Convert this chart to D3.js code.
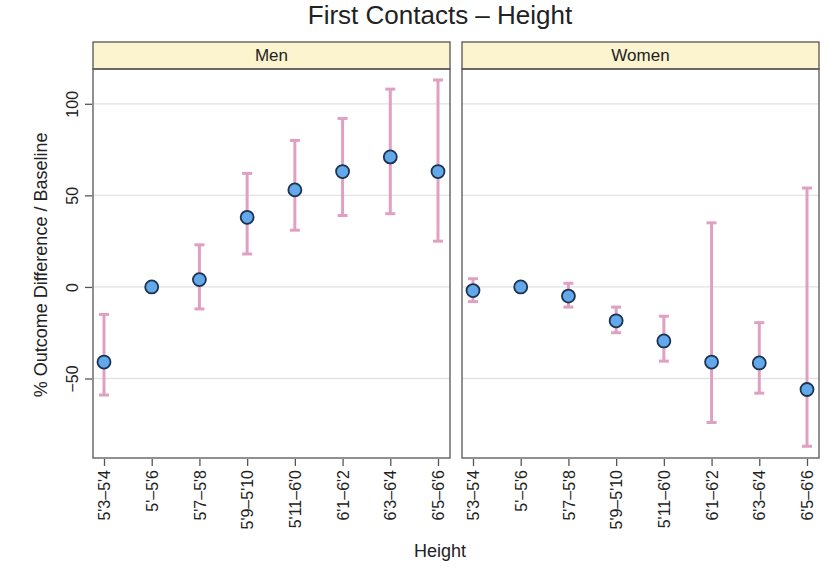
<!DOCTYPE html>
<html>
  <head>
    <title>First Contacts - Height</title>
    <script src="https://cdn.jsdelivr.net/npm/d3@7"></script>
    <style>
      body { margin: 0; background: #fff; }
      text { font-family: "Liberation Sans", Arial, sans-serif; fill: #222; }
    </style>
  </head>
  <body>
    <svg width="828" height="575" id="mainsvg"></svg>
    <script>
      const heights = ["5'3–5'4", "5'–5'6", "5'7–5'8", "5'9–5'10", "5'11–6'0", "6'1–6'2", "6'3–6'4", "6'5–6'6"];
      const panels = ['Men', 'Women'];
      const yTicks = [100, 50, 0, -50];

      // estimates, low and high ends of the bars (null = no bar)
      const menValue = [-41, 0, 4, 38, 53, 63, 71, 63];
      const menLow = [-59, null, -12, 18, 31, 39, 40, 25];
      const menHigh = [-15, null, 23, 62, 80, 92, 108, 113];
      const womenValue = [-2, 0, -5, -18.5, -29.5, -41, -41.5, -56];
      const womenLow = [-8, null, -11, -25, -40.5, -74, -58, -87];
      const womenHigh = [4.5, null, 2, -11, -16, 35, -19.5, 54];

      const series = {
        Men: heights.map((h, i) => ({h, v: menValue[i], lo: menLow[i], hi: menHigh[i]})),
        Women: heights.map((h, i) => ({h, v: womenValue[i], lo: womenLow[i], hi: womenHigh[i]}))
      };

      const svg = d3.select('#mainsvg');
      const panelLeft = {Men: 93, Women: 462};
      const panelWidth = 357;
      const stripTop = 42, stripH = 27;
      const plotTop = stripTop + stripH, plotBottom = 458;

      const yScale = d3.scaleLinear().domain([-93.4, 119]).range([plotBottom, plotTop]);

      svg.append('text')
        .attr('x', 440).attr('y', 24)
        .attr('text-anchor', 'middle')
        .attr('font-size', 26)
        .text('First Contacts – Height');

      panels.forEach((p, pi) => {
        const g = svg.append('g').attr('transform', `translate(${panelLeft[p]}, 0)`);
        const xScale = d3.scalePoint().domain(heights).range([11, panelWidth - 12]);

        // strip
        g.append('rect')
          .attr('x', 0).attr('y', stripTop)
          .attr('width', panelWidth).attr('height', stripH)
          .attr('fill', '#fcf3cf').attr('stroke', '#555').attr('stroke-width', 1.3);
        g.append('text')
          .attr('x', panelWidth / 2).attr('y', stripTop + 19)
          .attr('text-anchor', 'middle').attr('font-size', 17)
          .text(p);

        // grid
        g.selectAll('.grid').data(yTicks).join('line')
          .attr('class', 'grid')
          .attr('x1', 0).attr('x2', panelWidth)
          .attr('y1', d => yScale(d)).attr('y2', d => yScale(d))
          .attr('stroke', '#e2e2e2').attr('stroke-width', 1.3);

        // error bars
        const bars = series[p].filter(d => d.lo !== null);
        g.selectAll('.bar').data(bars).join('line')
          .attr('class', 'bar')
          .attr('x1', d => xScale(d.h)).attr('x2', d => xScale(d.h))
          .attr('y1', d => yScale(d.lo)).attr('y2', d => yScale(d.hi))
          .attr('stroke', '#dfa0c2').attr('stroke-width', 3);
        ['lo', 'hi'].forEach(k => {
          g.selectAll('.cap-' + k).data(bars).join('line')
            .attr('class', 'cap-' + k)
            .attr('x1', d => xScale(d.h) - 5).attr('x2', d => xScale(d.h) + 5)
            .attr('y1', d => yScale(d[k])).attr('y2', d => yScale(d[k]))
            .attr('stroke', '#dfa0c2').attr('stroke-width', 3);
        });

        // points
        g.selectAll('.pt').data(series[p]).join('circle')
          .attr('class', 'pt')
          .attr('cx', d => xScale(d.h)).attr('cy', d => yScale(d.v))
          .attr('r', 6.5)
          .attr('fill', '#62a8ea').attr('stroke', '#1c3350').attr('stroke-width', 1.8);

        // frame
        g.append('rect')
          .attr('x', 0).attr('y', plotTop)
          .attr('width', panelWidth).attr('height', plotBottom - plotTop)
          .attr('fill', 'none').attr('stroke', '#555').attr('stroke-width', 1.3);

        // x axis
        const xAxis = d3.axisBottom(xScale).tickSize(7).tickPadding(4);
        const xg = g.append('g').attr('transform', `translate(0, ${plotBottom + 1})`).call(xAxis);
        xg.select('.domain').remove();
        xg.selectAll('.tick line').attr('stroke', '#555').attr('stroke-width', 1.3);
        xg.selectAll('.tick text')
          .attr('font-size', 16)
          .attr('transform', 'rotate(-90)')
          .attr('text-anchor', 'end')
          .attr('x', -11).attr('y', 0).attr('dy', '0.35em');

        if (pi === 0) {
          const yAxis = d3.axisLeft(yScale).tickValues(yTicks).tickSize(7).tickPadding(4)
            .tickFormat(d => d < 0 ? '−' + Math.abs(d) : d);
          const yg = g.append('g').attr('transform', 'translate(-1, 0)').call(yAxis);
          yg.select('.domain').remove();
          yg.selectAll('.tick line').attr('stroke', '#555').attr('stroke-width', 1.3);
          yg.selectAll('.tick text')
            .attr('font-size', 16)
            .attr('transform', 'rotate(-90)')
            .attr('text-anchor', 'middle')
            .attr('x', 0).attr('y', -14).attr('dy', 0);
        }
      });

      // axis titles
      svg.append('text')
        .attr('x', 440).attr('y', 557)
        .attr('text-anchor', 'middle').attr('font-size', 18)
        .text('Height');
      svg.append('text')
        .attr('transform', `translate(47, ${yScale(12)}) rotate(-90)`)
        .attr('text-anchor', 'middle').attr('font-size', 18)
        .text('% Outcome Difference / Baseline');
    </script>
  </body>
</html>
